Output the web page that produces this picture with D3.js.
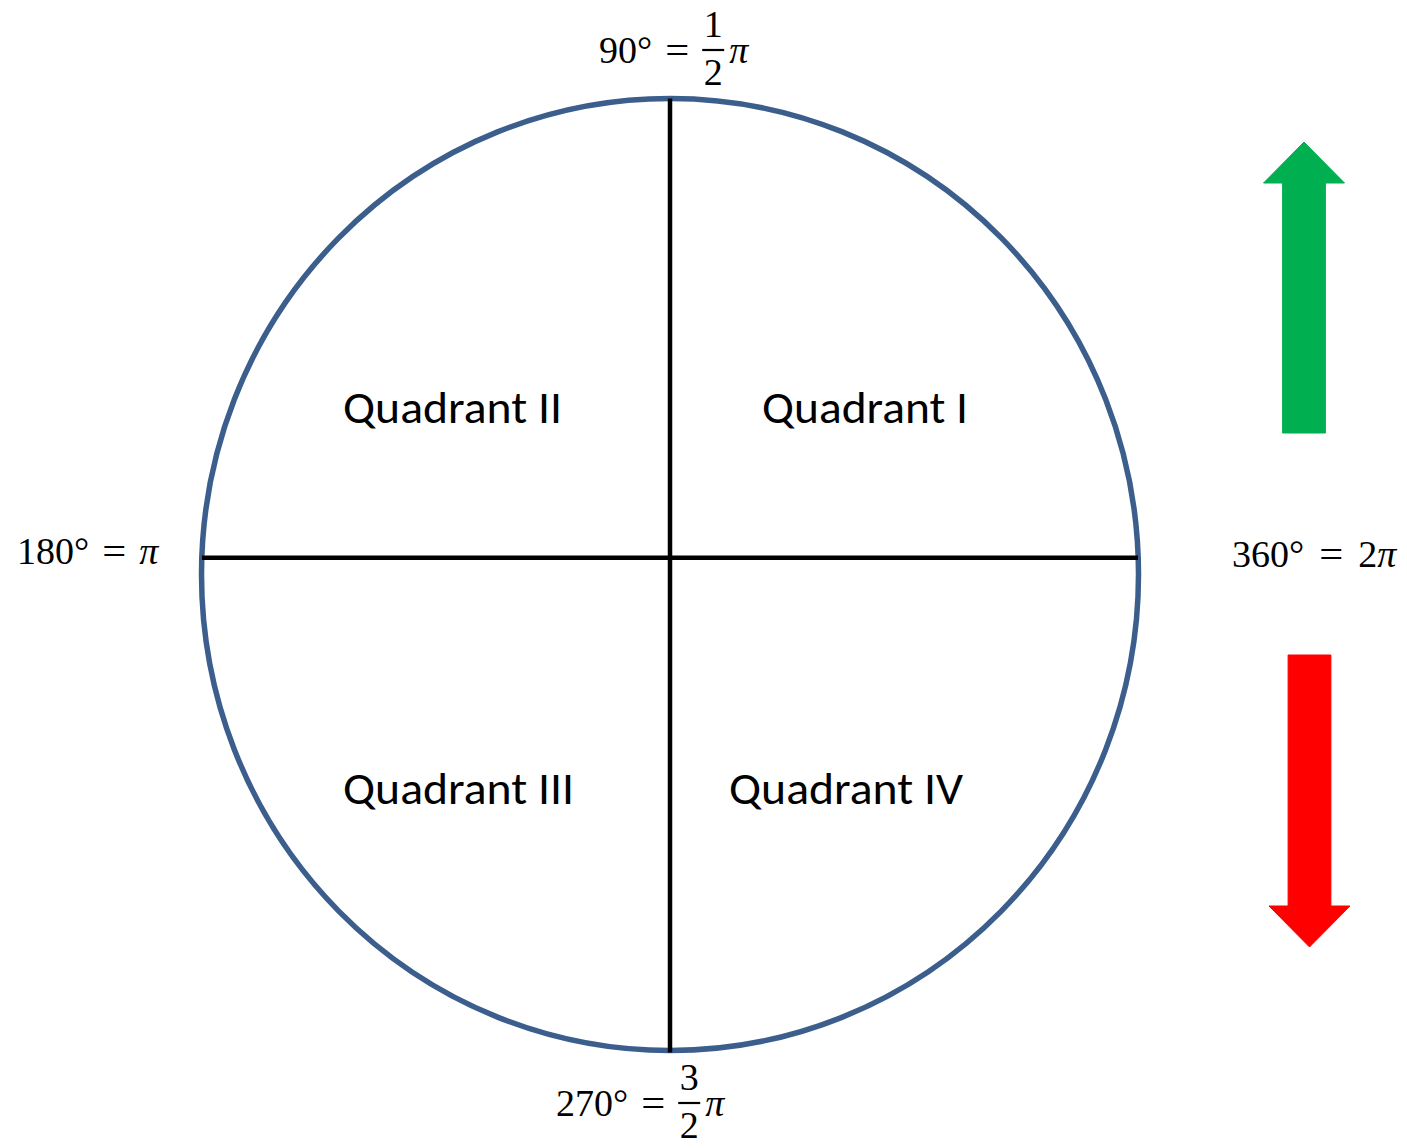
<!DOCTYPE html>
<html>
<head>
<meta charset="utf-8">
<script src="https://cdn.jsdelivr.net/npm/d3@7"></script>
<style>
  html, body { margin: 0; padding: 0; background: #fff; }
  svg { display: block; }
  .quad { font-family: Carlito, Calibri, "Open Sans", "Noto Sans", sans-serif; font-size: 45px; fill: #000; }
  .math { font-family: "Liberation Serif", "DejaVu Serif", serif; font-size: 38px; fill: #000; }
</style>
</head>
<body>
<div id="chart"></div>
<script>
'use strict';

// chart data
const quadrantNames = ["Quadrant I", "Quadrant II", "Quadrant III", "Quadrant IV"];
const angleDegrees = [90, 180, 270, 360];
const radNumerator = [1, 1, 3, 2];
const radDenominator = [2, 1, 2, 1];
const arrowDirections = ["up", "down"];
const arrowColors = ["#00B050", "#FF0000"];

const width = 1407, height = 1148;

// unit circle -> pixel scales
const x = d3.scaleLinear().domain([-1, 1]).range([201.5, 1138.5]);
const y = d3.scaleLinear().domain([-1, 1]).range([1050.5, 98.5]);

// layout (pixel positions / widths of labels and arrows)
const quadPos = [
  { x: 762, y: 423, w: 206 },
  { x: 343, y: 423, w: 219 },
  { x: 343, y: 804, w: 231 },
  { x: 729, y: 804, w: 234 }
];
const anglePos = [
  { x: 599, y: 63, gap: 13 },
  { x: 17, y: 564, gap: 13 },
  { x: 556, y: 1116, gap: 13 },
  { x: 1232, y: 567, gap: 15 }
];
const arrowLayout = [
  { cx: 1304, tail: 433, headBase: 183, tip: 142 },
  { cx: 1309.5, tail: 655, headBase: 906, tip: 947 }
];

let svg = d3.select('#chart').append('svg')
  .attr('width', width)
  .attr('height', height);

// circle
svg.append('ellipse')
  .attr('cx', x(0))
  .attr('cy', y(0))
  .attr('rx', x(1) - x(0))
  .attr('ry', y(-1) - y(0))
  .attr('fill', 'none')
  .attr('stroke', '#3B5E8C')
  .attr('stroke-width', 5.5);

// axes through the circle
const hAxisY = 0.035;
svg.append('line')
  .attr('x1', x(-1) + 0.5).attr('x2', x(1) - 0.5)
  .attr('y1', y(hAxisY)).attr('y2', y(hAxisY))
  .attr('stroke', '#000').attr('stroke-width', 4.5);
svg.append('line')
  .attr('x1', x(0)).attr('x2', x(0))
  .attr('y1', y(1)).attr('y2', y(-1) + 2)
  .attr('stroke', '#000').attr('stroke-width', 4.5);

// quadrant labels
svg.selectAll('text.quad').data(quadrantNames).enter()
  .append('text')
  .attr('class', 'quad')
  .attr('x', (d, i) => quadPos[i].x)
  .attr('y', (d, i) => quadPos[i].y)
  .attr('textLength', (d, i) => quadPos[i].w)
  .attr('lengthAdjust', 'spacingAndGlyphs')
  .text(d => d);

// angle labels: "deg° = frac π"
angleDegrees.forEach((deg, i) => {
  let p = anglePos[i];
  let g = svg.append('g').attr('class', 'math');
  let t1 = g.append('text').attr('x', p.x).attr('y', p.y).text(deg + '°');
  let cx = p.x + t1.node().getComputedTextLength() + p.gap;
  g.append('text').attr('x', cx).attr('y', p.y)
    .attr('textLength', 24).attr('lengthAdjust', 'spacingAndGlyphs').text('=');
  cx += 24 + p.gap;

  let num = radNumerator[i], den = radDenominator[i];
  if (den === 1) {
    let t = g.append('text').attr('x', cx).attr('y', p.y);
    if (num !== 1) t.append('tspan').text(num);
    t.append('tspan').attr('font-style', 'italic').text('π');
  } else {
    let fw = 22;
    g.append('text').attr('x', cx + fw / 2).attr('y', p.y - 26)
      .attr('text-anchor', 'middle').text(num);
    g.append('line')
      .attr('x1', cx).attr('x2', cx + fw)
      .attr('y1', p.y - 13).attr('y2', p.y - 13)
      .attr('stroke', '#000').attr('stroke-width', 2.2);
    g.append('text').attr('x', cx + fw / 2).attr('y', p.y + 22)
      .attr('text-anchor', 'middle').text(den);
    g.append('text').attr('x', cx + fw + 5).attr('y', p.y)
      .attr('font-style', 'italic').text('π');
  }
});

// block arrows
const shaftHalf = 21.4, headHalf = 40.5;
function arrowPath(a) {
  let p = d3.path();
  p.moveTo(a.cx - shaftHalf, a.tail);
  p.lineTo(a.cx - shaftHalf, a.headBase);
  p.lineTo(a.cx - headHalf, a.headBase);
  p.lineTo(a.cx, a.tip);
  p.lineTo(a.cx + headHalf, a.headBase);
  p.lineTo(a.cx + shaftHalf, a.headBase);
  p.lineTo(a.cx + shaftHalf, a.tail);
  p.closePath();
  return p.toString();
}

svg.selectAll('path.arrow').data(arrowDirections).enter()
  .append('path')
  .attr('class', d => 'arrow ' + d)
  .attr('d', (d, i) => arrowPath(arrowLayout[i]))
  .attr('fill', (d, i) => arrowColors[i])
  .attr('stroke', (d, i) => arrowColors[i])
  .attr('stroke-width', 1)
  .attr('stroke-linejoin', 'round');
</script>
</body>
</html>
